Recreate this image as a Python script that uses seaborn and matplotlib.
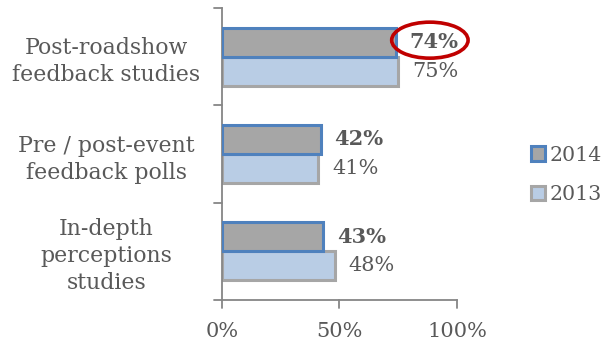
import matplotlib
matplotlib.use("Agg")
import matplotlib.pyplot as plt
from matplotlib.patches import Ellipse, Patch
import pandas as pd
import seaborn as sns

categories = ["Post-roadshow\nfeedback studies",
              "Pre / post-event\nfeedback polls",
              "In-depth\nperceptions\nstudies"]
years = ["2014", "2013"]
values_2014 = [74, 42, 43]
values_2013 = [75, 41, 48]
xticks = [0, 50, 100]
xtick_labels = ["0%", "50%", "100%"]

TEXT = "#595959"
AXIS = "#868686"
face = {"2014": "#A6A6A6", "2013": "#B9CDE5"}
edge = {"2014": "#4F81BD", "2013": "#A6A6A6"}

df = pd.DataFrame({
    "category": categories * 2,
    "year": [years[0]] * 3 + [years[1]] * 3,
    "value": values_2014 + values_2013,
})

sns.set_theme(style="white")
plt.rcParams["font.family"] = ["DejaVu Serif"]

fig = plt.figure(figsize=(6.06, 3.5), dpi=100)
ax = fig.add_axes([0.366, 0.143, 0.388, 0.834])

sns.barplot(data=df, y="category", x="value", hue="year", hue_order=years,
            order=categories, orient="h", width=0.6, palette=face,
            ax=ax, legend=False, saturation=1)

for container, yr in zip(ax.containers, years):
    for bar in container:
        bar.set_edgecolor(edge[yr])
        bar.set_linewidth(2.2)
        bar.set_zorder(3 if yr == "2014" else 2)

# value labels just past each bar end
for container, yr, vals in zip(ax.containers, years, [values_2014, values_2013]):
    for bar, v in zip(container, vals):
        cy = bar.get_y() + bar.get_height() / 2
        ax.annotate(f"{v}%", xy=(v, cy), xytext=(10, 0), textcoords="offset points",
                    ha="left", va="center", fontsize=15, color=TEXT,
                    fontweight="bold" if yr == "2014" else "normal",
                    annotation_clip=False)

# highlight ring around the top 2014 figure
top = ax.containers[0][0]
ty = top.get_y() + top.get_height() / 2
ax.add_patch(Ellipse((values_2014[0] + 14.5, ty - 0.02), width=32.5, height=0.37,
                     fill=False, edgecolor="#C00000", linewidth=2.6,
                     clip_on=False, zorder=5))

ax.set_xlim(0, 100)
ax.set_ylim(2.5, -0.5)
ax.set_xlabel("")
ax.set_ylabel("")
ax.set_xticks(xticks)
ax.set_xticklabels(xtick_labels, fontsize=15, color=TEXT)
ax.set_yticks(range(len(categories)))
ax.set_yticklabels(categories, fontsize=15.8, color=TEXT, ha="center",
                   linespacing=1.3)
ax.tick_params(axis="y", length=0, pad=83)
ax.tick_params(axis="x", length=0, pad=16)

# boundary tick marks on the category axis and tick marks on the value axis
for yb in [-0.5, 0.5, 1.5, 2.5]:
    ax.plot([-3.4, 0], [yb, yb], color=AXIS, lw=1.3, clip_on=False, zorder=1)
for xv in xticks:
    ax.plot([xv, xv], [2.5, 2.58], color=AXIS, lw=1.3, clip_on=False, zorder=1)

sns.despine(ax=ax, top=True, right=True)
for s in ["left", "bottom"]:
    ax.spines[s].set_color(AXIS)
    ax.spines[s].set_linewidth(1.3)

handles = [Patch(facecolor=face[y], edgecolor=edge[y], linewidth=2.2, label=y)
           for y in years]
fig.legend(handles=handles, loc="center left", bbox_to_anchor=(0.862, 0.5),
           frameon=False, fontsize=14.8, labelcolor=TEXT, handlelength=0.7,
           handleheight=0.7, handletextpad=0.2, labelspacing=1.0,
           borderaxespad=0)

fig.savefig("out.png", dpi=100)
